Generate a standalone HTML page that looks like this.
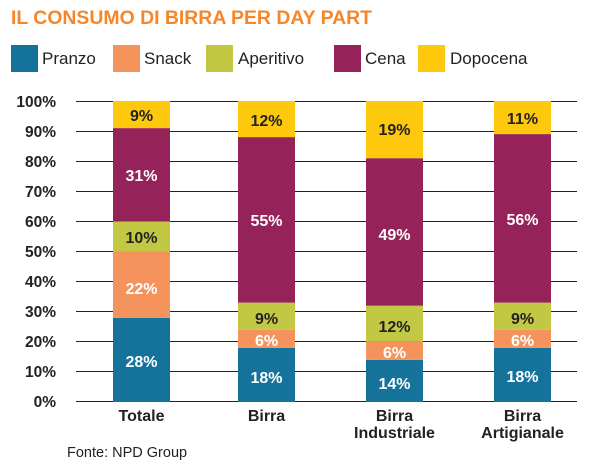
<!DOCTYPE html>
<html><head><meta charset="utf-8"><style>body{margin:0;background:#fff}svg{display:block}text{font-family:"Liberation Sans",sans-serif}</style></head><body>
<svg width="602" height="473" xmlns="http://www.w3.org/2000/svg">
<text x="11" y="24" font-size="19" font-weight="bold" fill="#f5862a" textLength="361" lengthAdjust="spacingAndGlyphs">IL CONSUMO DI BIRRA PER DAY PART</text>
<g font-size="17" fill="#222">
<rect x="11" y="45" width="27" height="27" fill="#15729b"/><text x="42" y="64">Pranzo</text>
<rect x="113" y="45" width="27" height="27" fill="#f5935d"/><text x="144" y="64">Snack</text>
<rect x="206" y="45" width="27" height="27" fill="#c3c844"/><text x="238" y="64">Aperitivo</text>
<rect x="334" y="45" width="27" height="27" fill="#952259"/><text x="365" y="64">Cena</text>
<rect x="418" y="45" width="27" height="27" fill="#fec80c"/><text x="450" y="64">Dopocena</text>
</g>
<g stroke="#222" stroke-width="1">
<line x1="76" x2="577" y1="101.5" y2="101.5"/><line x1="76" x2="577" y1="131.5" y2="131.5"/><line x1="76" x2="577" y1="161.5" y2="161.5"/><line x1="76" x2="577" y1="191.5" y2="191.5"/><line x1="76" x2="577" y1="221.5" y2="221.5"/><line x1="76" x2="577" y1="251.5" y2="251.5"/><line x1="76" x2="577" y1="281.5" y2="281.5"/><line x1="76" x2="577" y1="311.5" y2="311.5"/><line x1="76" x2="577" y1="341.5" y2="341.5"/><line x1="76" x2="577" y1="371.5" y2="371.5"/><line x1="76" x2="577" y1="401.5" y2="401.5"/>
</g>
<g font-size="15.5" font-weight="bold" fill="#222" text-anchor="end">
<text x="56" y="107">100%</text><text x="56" y="137">90%</text><text x="56" y="167">80%</text><text x="56" y="197">70%</text><text x="56" y="227">60%</text><text x="56" y="257">50%</text><text x="56" y="287">40%</text><text x="56" y="317">30%</text><text x="56" y="347">20%</text><text x="56" y="377">10%</text><text x="56" y="407">0%</text>
</g>
<rect x="113" y="317.8" width="57" height="84.2" fill="#15729b"/>
<rect x="113" y="251.5" width="57" height="66.3" fill="#f5935d"/>
<rect x="113" y="221.4" width="57" height="30.1" fill="#c3c844"/>
<rect x="113" y="128.1" width="57" height="93.3" fill="#952259"/>
<rect x="113" y="101" width="57" height="27.1" fill="#fec80c"/>
<rect x="238" y="347.8" width="57" height="54.2" fill="#15729b"/>
<rect x="238" y="329.7" width="57" height="18.1" fill="#f5935d"/>
<rect x="238" y="302.6" width="57" height="27.1" fill="#c3c844"/>
<rect x="238" y="137.1" width="57" height="165.5" fill="#952259"/>
<rect x="238" y="101" width="57" height="36.1" fill="#fec80c"/>
<rect x="366" y="359.9" width="57" height="42.1" fill="#15729b"/>
<rect x="366" y="341.8" width="57" height="18.1" fill="#f5935d"/>
<rect x="366" y="305.7" width="57" height="36.1" fill="#c3c844"/>
<rect x="366" y="158.2" width="57" height="147.5" fill="#952259"/>
<rect x="366" y="101" width="57" height="57.2" fill="#fec80c"/>
<rect x="494" y="347.8" width="57" height="54.2" fill="#15729b"/>
<rect x="494" y="329.7" width="57" height="18.1" fill="#f5935d"/>
<rect x="494" y="302.6" width="57" height="27.1" fill="#c3c844"/>
<rect x="494" y="134.1" width="57" height="168.5" fill="#952259"/>
<rect x="494" y="101" width="57" height="33.1" fill="#fec80c"/>
<g font-size="16" font-weight="bold" text-anchor="middle">
<g fill="#fff">
<text x="141.5" y="367">28%</text><text x="141.5" y="294">22%</text><text x="141.5" y="181">31%</text>
<text x="266.5" y="383">18%</text><text x="266.5" y="346">6%</text><text x="266.5" y="226">55%</text>
<text x="394.5" y="389">14%</text><text x="394.5" y="358">6%</text><text x="394.5" y="240">49%</text>
<text x="522.5" y="382">18%</text><text x="522.5" y="346">6%</text><text x="522.5" y="225">56%</text>
</g>
<g fill="#222">
<text x="141.5" y="121">9%</text><text x="141.5" y="243">10%</text>
<text x="266.5" y="126">12%</text><text x="266.5" y="324">9%</text>
<text x="394.5" y="135">19%</text><text x="394.5" y="332">12%</text>
<text x="522.5" y="124">11%</text><text x="522.5" y="324">9%</text>
</g>
<g fill="#222">
<text x="141.5" y="421">Totale</text>
<text x="266.5" y="421">Birra</text>
<text x="394.5" y="421">Birra</text><text x="394.5" y="438">Industriale</text>
<text x="522.5" y="421">Birra</text><text x="522.5" y="438">Artigianale</text>
</g>
</g>
<text x="67" y="457" font-size="14.5" fill="#222">Fonte: NPD Group</text>
</svg>
</body></html>
